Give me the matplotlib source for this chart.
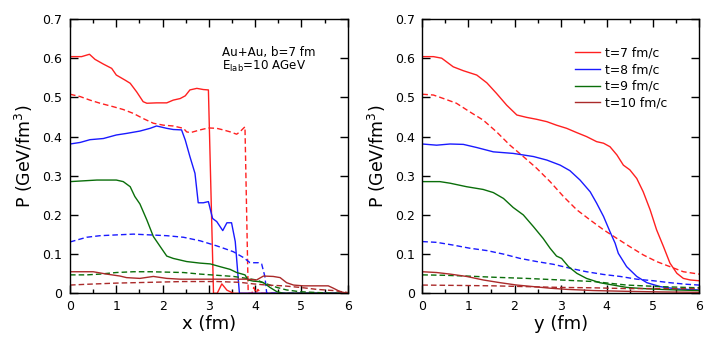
import matplotlib
matplotlib.use("Agg")
import matplotlib.pyplot as plt
from matplotlib.ticker import MultipleLocator

plt.rcParams['font.family'] = ['DejaVu Sans']
plt.rcParams['mathtext.fontset'] = 'dejavusans'

# ---------------- Left panel (x direction) ----------------
x_r7 = [0, 0.25, 0.42, 0.54, 0.72, 0.9, 1.0, 1.19, 1.3, 1.44, 1.58, 1.66, 1.87, 2.09, 2.23, 2.38, 2.49, 2.59, 2.74, 2.88, 2.99, 3.1, 3.18, 3.28, 3.39, 3.53, 6.0]
p_r7 = [0.604, 0.604, 0.61, 0.597, 0.585, 0.574, 0.557, 0.544, 0.536, 0.514, 0.489, 0.485, 0.486, 0.486, 0.493, 0.497, 0.504, 0.519, 0.523, 0.52, 0.519, 0.0, 0.0, 0.024, 0.008, 0.0, 0.0]
x_r7d = [0, 0.22, 0.43, 0.65, 0.94, 1.15, 1.37, 1.58, 1.8, 2.02, 2.23, 2.45, 2.52, 2.6, 2.81, 2.99, 3.17, 3.31, 3.46, 3.6, 3.67, 3.78, 3.85, 3.93, 3.97, 4.02, 4.06, 4.12, 6.0]
p_r7d = [0.508, 0.502, 0.493, 0.485, 0.476, 0.469, 0.459, 0.446, 0.434, 0.429, 0.427, 0.421, 0.412, 0.41, 0.417, 0.422, 0.421, 0.417, 0.412, 0.406, 0.412, 0.425, 0.0, 0.0, 0.015, 0.0, 0.01, 0.0, 0.0]

x_b8 = [0, 0.22, 0.43, 0.72, 1.0, 1.22, 1.51, 1.73, 1.87, 2.09, 2.23, 2.41, 2.49, 2.59, 2.7, 2.77, 2.88, 2.99, 3.08, 3.17, 3.3, 3.39, 3.49, 3.57, 3.66, 6.0]
p_b8 = [0.381, 0.385, 0.392, 0.395, 0.404, 0.408, 0.414, 0.421, 0.427, 0.421, 0.418, 0.417, 0.391, 0.349, 0.306, 0.231, 0.231, 0.234, 0.191, 0.183, 0.16, 0.18, 0.18, 0.132, 0.0, 0.0]
x_b8d = [0, 0.36, 0.65, 1.0, 1.37, 1.73, 2.09, 2.45, 2.81, 3.17, 3.39, 3.53, 3.75, 3.89, 4.07, 4.14, 4.21, 4.25, 6.0]
p_b8d = [0.131, 0.143, 0.147, 0.149, 0.151, 0.149, 0.147, 0.143, 0.134, 0.121, 0.112, 0.106, 0.091, 0.078, 0.078, 0.075, 0.043, 0.0, 0.0]

x_g9 = [0, 0.29, 0.58, 1.0, 1.15, 1.3, 1.4, 1.51, 1.66, 1.8, 1.95, 2.09, 2.23, 2.52, 2.81, 3.03, 3.24, 3.46, 3.6, 3.78, 3.85, 3.96, 4.07, 4.18, 4.32, 4.47, 4.61, 6.0]
p_g9 = [0.285, 0.287, 0.289, 0.289, 0.285, 0.272, 0.247, 0.228, 0.187, 0.145, 0.119, 0.095, 0.089, 0.081, 0.077, 0.075, 0.068, 0.061, 0.053, 0.047, 0.034, 0.031, 0.03, 0.027, 0.015, 0.004, 0.0, 0.0]
x_g9d = [0, 0.36, 0.65, 1.0, 1.37, 1.73, 2.09, 2.45, 2.81, 3.17, 3.53, 3.82, 4.03, 4.18, 4.32, 4.47, 4.68, 4.97, 5.33, 5.69, 6.0]
p_g9d = [0.047, 0.047, 0.049, 0.053, 0.055, 0.055, 0.054, 0.053, 0.049, 0.046, 0.043, 0.038, 0.034, 0.027, 0.021, 0.015, 0.0085, 0.004, 0.002, 0.0, 0.0]

x_n10 = [0, 0.29, 0.5, 0.79, 1.08, 1.22, 1.51, 1.8, 2.09, 2.38, 2.81, 3.17, 3.53, 3.82, 4.03, 4.18, 4.39, 4.54, 4.68, 4.83, 5.04, 5.4, 5.58, 5.69, 5.84, 6.0]
p_n10 = [0.055, 0.055, 0.055, 0.049, 0.044, 0.04, 0.038, 0.043, 0.038, 0.036, 0.036, 0.036, 0.036, 0.036, 0.034, 0.044, 0.043, 0.04, 0.027, 0.021, 0.019, 0.019, 0.019, 0.013, 0.004, 0.0]
x_n10d = [0, 0.36, 1.0, 1.73, 2.45, 3.17, 3.67, 3.96, 4.25, 4.61, 4.97, 5.33, 5.69, 6.0]
p_n10d = [0.021, 0.023, 0.026, 0.028, 0.03, 0.03, 0.028, 0.024, 0.021, 0.019, 0.015, 0.01, 0.007, 0.002]

# ---------------- Right panel (y direction) ----------------
y_r7 = [0, 0.24, 0.42, 0.67, 0.89, 1.18, 1.4, 1.61, 1.83, 2.05, 2.26, 2.48, 2.7, 2.91, 3.13, 3.35, 3.56, 3.78, 3.93, 4.07, 4.22, 4.36, 4.5, 4.65, 4.79, 4.94, 5.08, 5.23, 5.37, 5.52, 5.66, 5.81, 6.0]
q_r7 = [0.604, 0.604, 0.6, 0.578, 0.568, 0.557, 0.537, 0.51, 0.48, 0.455, 0.449, 0.444, 0.438, 0.429, 0.421, 0.41, 0.4, 0.387, 0.383, 0.374, 0.353, 0.327, 0.315, 0.293, 0.259, 0.213, 0.162, 0.119, 0.077, 0.051, 0.038, 0.034, 0.032]
y_r7d = [0, 0.24, 0.46, 0.74, 1.03, 1.32, 1.61, 1.9, 2.19, 2.48, 2.77, 3.06, 3.35, 3.64, 3.93, 4.22, 4.5, 4.79, 5.08, 5.37, 5.66, 6.0]
q_r7d = [0.508, 0.506, 0.497, 0.485, 0.463, 0.442, 0.412, 0.378, 0.349, 0.319, 0.285, 0.247, 0.213, 0.187, 0.162, 0.14, 0.119, 0.098, 0.081, 0.068, 0.055, 0.049]

y_b8 = [0, 0.31, 0.6, 0.89, 1.18, 1.54, 1.97, 2.41, 2.7, 2.99, 3.2, 3.42, 3.64, 3.78, 3.93, 4.07, 4.18, 4.25, 4.43, 4.65, 4.87, 5.16, 5.52, 6.0]
q_b8 = [0.381, 0.378, 0.381, 0.38, 0.372, 0.361, 0.357, 0.349, 0.34, 0.327, 0.313, 0.289, 0.259, 0.23, 0.196, 0.157, 0.128, 0.102, 0.068, 0.043, 0.027, 0.017, 0.011, 0.0085]
y_b8d = [0, 0.31, 0.67, 1.03, 1.4, 1.76, 2.12, 2.48, 2.84, 3.2, 3.56, 3.93, 4.29, 4.65, 5.01, 5.37, 5.73, 6.0]
q_b8d = [0.132, 0.13, 0.123, 0.115, 0.109, 0.1, 0.089, 0.081, 0.074, 0.064, 0.055, 0.048, 0.043, 0.036, 0.032, 0.027, 0.023, 0.021]

y_g9 = [0, 0.38, 0.6, 0.96, 1.32, 1.54, 1.76, 1.97, 2.19, 2.41, 2.62, 2.77, 2.91, 3.02, 3.17, 3.35, 3.56, 3.85, 4.14, 4.43, 4.79, 5.16, 5.52, 6.0]
q_g9 = [0.285, 0.285, 0.281, 0.272, 0.265, 0.257, 0.242, 0.219, 0.2, 0.17, 0.14, 0.115, 0.095, 0.089, 0.068, 0.051, 0.038, 0.027, 0.021, 0.015, 0.012, 0.01, 0.0085, 0.007]
y_g9d = [0, 0.46, 0.96, 1.54, 2.26, 2.99, 3.71, 4.43, 5.16, 6.0]
q_g9d = [0.047, 0.046, 0.044, 0.041, 0.038, 0.034, 0.03, 0.021, 0.017, 0.014]

y_n10 = [0, 0.31, 0.6, 0.96, 1.32, 1.69, 2.05, 2.41, 2.77, 3.13, 3.71, 4.43, 5.16, 6.0]
q_n10 = [0.055, 0.053, 0.049, 0.043, 0.034, 0.027, 0.021, 0.017, 0.013, 0.01, 0.007, 0.005, 0.0035, 0.0025]
y_n10d = [0, 0.82, 1.54, 2.26, 2.99, 3.71, 4.43, 5.16, 6.0]
q_n10d = [0.021, 0.02, 0.019, 0.017, 0.015, 0.014, 0.012, 0.012, 0.012]

labels = ["t=7 fm/c", "t=8 fm/c", "t=9 fm/c", "t=10 fm/c"]
colors = ["#ff2020", "#1a1aff", "#0a6e0a", "#aa2a2a"]
ytick_vals = [0, 0.1, 0.2, 0.3, 0.4, 0.5, 0.6, 0.7]
ytick_txt = ["0", "0.1", "0.2", "0.3", "0.4", "0.5", "0.6", "0.7"]

fig = plt.figure(figsize=(7.06, 3.54), dpi=100)
axL = fig.add_axes([0.0992, 0.1715, 0.3933, 0.7748])
axR = fig.add_axes([0.5982, 0.1715, 0.3919, 0.7748])

lw = 1.0
dash = (0, (4, 2.2))

left_series = [(x_r7, p_r7, x_r7d, p_r7d), (x_b8, p_b8, x_b8d, p_b8d),
               (x_g9, p_g9, x_g9d, p_g9d), (x_n10, p_n10, x_n10d, p_n10d)]
right_series = [(y_r7, q_r7, y_r7d, q_r7d), (y_b8, q_b8, y_b8d, q_b8d),
                (y_g9, q_g9, y_g9d, q_g9d), (y_n10, q_n10, y_n10d, q_n10d)]

for ax, series in ((axL, left_series), (axR, right_series)):
    for (xs, ps, xd, pd_), c, lab in zip(series, colors, labels):
        ax.plot(xs, ps, color=c, lw=lw, label=lab)
        ax.plot(xd, pd_, color=c, lw=lw, linestyle=dash)
    ax.set_xlim(0, 6)
    ax.set_ylim(0, 0.7)
    ax.xaxis.set_major_locator(MultipleLocator(1))
    ax.xaxis.set_minor_locator(MultipleLocator(0.5))
    ax.set_yticks(ytick_vals)
    ax.set_yticklabels(ytick_txt)
    ax.tick_params(which='both', direction='in', top=True, right=True, labelsize=9)
    ax.tick_params(which='major', length=6, width=1)
    ax.tick_params(which='minor', length=3, width=1)
    ax.tick_params(axis='y', pad=5.5)
    ax.tick_params(axis='x', pad=5)
    for s in ax.spines.values():
        s.set_linewidth(1.0)
    ax.set_ylabel("P (GeV/fm$^3$)", fontsize=12.5, labelpad=5)

axL.set_xlabel("x (fm)", fontsize=13, labelpad=1)
axR.set_xlabel("y (fm)", fontsize=13, labelpad=1)

axL.text(0.547, 0.864, "Au+Au, b=7 fm", transform=axL.transAxes, fontsize=8.6, va='baseline')
axL.text(0.547, 0.815, "E$_{\\rm lab}$=10 AGeV", transform=axL.transAxes, fontsize=8.6, va='baseline')

axR.legend(loc='upper left', bbox_to_anchor=(0.552, 0.9), frameon=False, fontsize=8.9,
           handlelength=2.0, handletextpad=0.4, labelspacing=0.3, borderaxespad=0.0,
           borderpad=0.0)

fig.savefig("out.png", dpi=100)
